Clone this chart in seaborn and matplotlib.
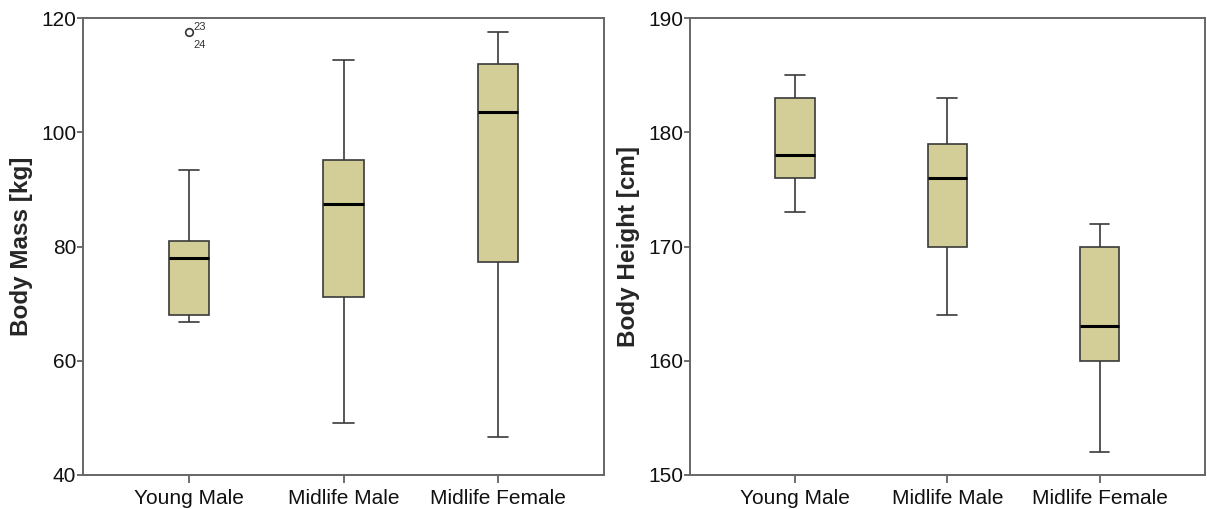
import numpy as np
import pandas as pd
import seaborn as sns
import matplotlib.pyplot as plt

# Box statistics (whisker low, Q1, median, Q3, whisker high)
groups = ['Young Male', 'Midlife Male', 'Midlife Female']

mass_low = [66.8, 49.1, 46.6]
mass_q1 = [68.0, 71.1, 77.3]
mass_median = [78.0, 87.4, 103.5]
mass_q3 = [81.0, 95.1, 112.0]
mass_high = [93.4, 112.6, 117.5]

height_low = [173, 164, 152]
height_q1 = [176, 170, 160]
height_median = [178, 176, 163]
height_q3 = [183, 179, 170]
height_high = [185, 183, 172]

# outliers (body mass): case 23 and 24 in Young Male
outlier_group = ['Young Male']
outlier_value = [117.5]
outlier_ids = [('23', '24')]


def five_number_frame(low, q1, med, q3, high):
    rows = []
    for g, vals in zip(groups, zip(low, q1, med, q3, high)):
        for v in vals:
            rows.append({'group': g, 'value': v})
    return pd.DataFrame(rows)


mass_df = five_number_frame(mass_low, mass_q1, mass_median, mass_q3, mass_high)
height_df = five_number_frame(height_low, height_q1, height_median, height_q3, height_high)

sns.set_style('white')
plt.rcParams['font.family'] = ['Liberation Sans', 'DejaVu Sans']

fig = plt.figure(figsize=(12.07, 5.09), dpi=100)
ax1 = fig.add_axes([0.0688, 0.0668, 0.4316, 0.8978])
ax2 = fig.add_axes([0.5717, 0.0668, 0.4263, 0.8978])

box_fill = '#D3CE97'
edge = '#3a3a3a'

for ax, df, ylabel, ylim, yticks in [
    (ax1, mass_df, 'Body Mass [kg]', (40, 120), [40, 60, 80, 100, 120]),
    (ax2, height_df, 'Body Height [cm]', (150, 190), [150, 160, 170, 180, 190]),
]:
    sns.boxplot(data=df, x='group', y='value', order=groups, whis=np.inf,
                width=0.26, color=box_fill, saturation=1, linecolor=edge,
                linewidth=1.2, medianprops={'color': 'black', 'linewidth': 2.2},
                ax=ax)
    ax.set_ylim(*ylim)
    ax.set_yticks(yticks)
    ax.set_xlim(-0.69, 2.69)
    ax.set_xlabel('')
    ax.set_ylabel(ylabel, fontsize=17.5, fontweight='bold', labelpad=6)
    ax.tick_params(axis='both', labelsize=15, direction='out', width=1.2,
                   color='#555555', labelcolor='#111111', left=True, bottom=True, pad=1)
    ax.tick_params(axis='y', length=4)
    ax.tick_params(axis='x', length=6, pad=4)
    for s in ax.spines.values():
        s.set_color('#666666')
        s.set_linewidth(1.4)

# outliers
for g, v, ids in zip(outlier_group, outlier_value, outlier_ids):
    xi = groups.index(g)
    ax1.scatter([xi], [v], s=30, facecolors='white', edgecolors='#333333',
                linewidths=1.2, zorder=5)
    ax1.annotate(ids[0], (xi, v), xytext=(3, 2), textcoords='offset points',
                 fontsize=8, color='#333333')
    ax1.annotate(ids[1], (xi, v), xytext=(3, -11), textcoords='offset points',
                 fontsize=8, color='#333333')

fig.savefig('out.png', dpi=100)
